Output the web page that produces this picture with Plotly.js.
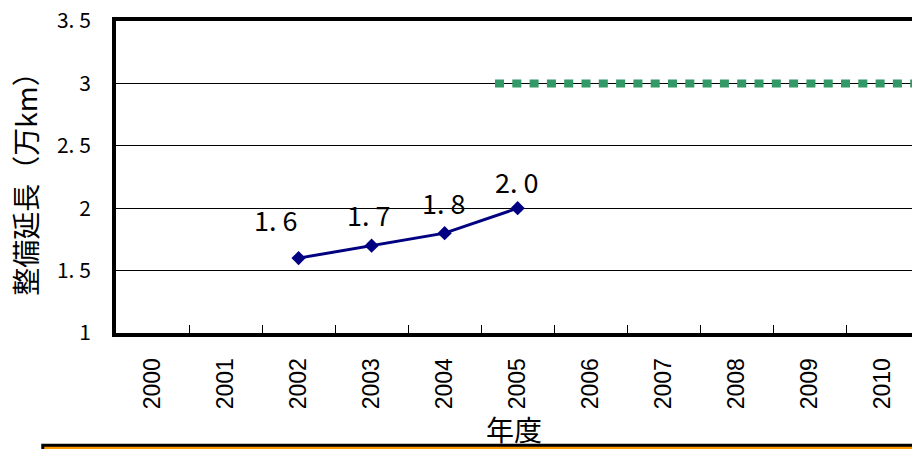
<!DOCTYPE html>
<html>
<head>
<meta charset="utf-8">
<script src="https://cdn.plot.ly/plotly-3.0.1.min.js"></script>
<style>
html,body{margin:0;padding:0;background:#fff;}
#chart{width:912px;height:449px;}
</style>
</head>
<body>
<div id="chart"></div>
<script>
// ---- data ----
const years = ['2000','2001','2002','2003','2004','2005','2006','2007','2008','2009','2010'];
const actualYears = ['2002','2003','2004','2005'];
const actualValues = [1.6, 1.7, 1.8, 2.0];
const actualLabels = ['1. 6', '1. 7', '1. 8', '2. 0'];
const targetYears = [2004.69, 2011];
const targetValues = [3, 3];
const yTickVals = [1, 1.5, 2, 2.5, 3, 3.5];
const yTickText = ['1', '1. 5', '2', '2. 5', '3', '3. 5'];
const yTitle = '整備延長（万km）';
const xTitle = '年度';

// ---- style ----
const labelShift = [[-23, 39], [-3, 31], [-1, 31], [-1, 27]];
const latin = '"Liberation Sans", Arial, sans-serif';
const jp = '"Noto Sans CJK JP", "Noto Sans", sans-serif';

const traces = [
  {
    x: years, y: years.map(() => null), type: 'scatter', mode: 'lines',
    showlegend: false, hoverinfo: 'skip', xaxis: 'x', yaxis: 'y'
  },
  {
    x: actualYears, y: actualValues, type: 'scatter', mode: 'lines+markers',
    line: {color: '#000080', width: 3},
    marker: {symbol: 'diamond', size: 11, color: '#000080'},
    showlegend: false, xaxis: 'x', yaxis: 'y'
  },
  {
    x: targetYears, y: targetValues, type: 'scatter', mode: 'lines',
    line: {color: '#339966', width: 8, dash: '9px,8.3px'},
    showlegend: false, xaxis: 'x2', yaxis: 'y'
  }
];

const annotations = actualYears.map((yr, i) => ({
  x: years.indexOf(yr), y: actualValues[i], xref: 'x', yref: 'y',
  text: actualLabels[i], showarrow: false,
  xshift: labelShift[i][0], yshift: labelShift[i][1],
  font: {family: jp, size: 27, color: '#000'}
}));

const layout = {
  width: 912, height: 449,
  margin: {l: 116, r: 0, t: 21, b: 116},
  paper_bgcolor: '#fff', plot_bgcolor: '#fff',
  showlegend: false,
  xaxis: {
    type: 'category', categoryorder: 'array', categoryarray: years,
    range: [-0.5, 10.40], tickson: 'boundaries',
    ticks: 'inside', ticklen: 8, tickwidth: 1, tickcolor: '#000',
    tickangle: -90, ticklabelstandoff: 12,
    tickfont: {family: latin, size: 23, color: '#000'},
    showline: true, linewidth: 4, linecolor: '#000', mirror: true,
    showgrid: false, zeroline: false,
    title: {text: xTitle, font: {family: jp, size: 28, color: '#000'}, standoff: 18}
  },
  xaxis2: {
    overlaying: 'x', range: [1999.5, 2010.40], visible: false
  },
  yaxis: {
    range: [1, 3.5], tickmode: 'array', tickvals: yTickVals, ticktext: yTickText,
    ticks: '', ticklabelstandoff: 17,
    tickfont: {family: jp, size: 21, color: '#000'},
    showline: true, linewidth: 4, linecolor: '#000', mirror: false,
    showgrid: true, gridcolor: '#000', gridwidth: 1, zeroline: false,
    title: {text: yTitle, font: {family: jp, size: 28, color: '#000'}, standoff: 12}
  },
  annotations: annotations,
  shapes: [{
    type: 'rect', xref: 'paper', yref: 'paper', layer: 'below',
    x0: -0.092, x1: 1.2, y0: -0.36, y1: -0.6,
    line: {color: '#000', width: 3}, fillcolor: '#FF9900'
  }]
};

Plotly.newPlot('chart', traces, layout, {displayModeBar: false, staticPlot: true});
</script>
</body>
</html>
